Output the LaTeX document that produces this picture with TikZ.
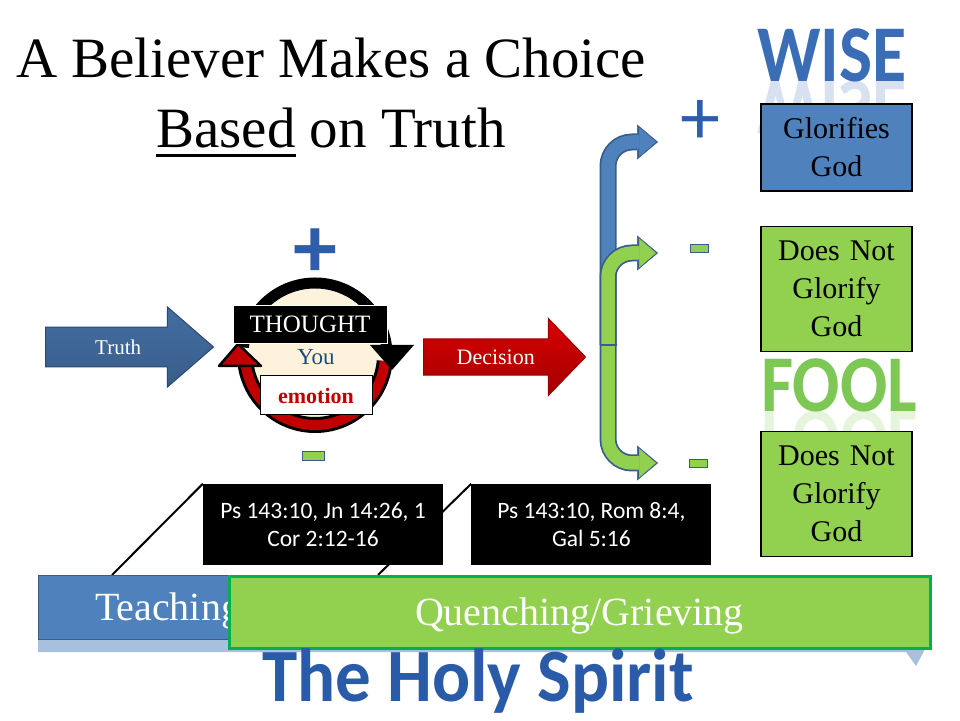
\documentclass[tikz,border=0pt]{standalone}
\usepackage{fontspec}
\setmainfont{Liberation Serif}
\newfontfamily\calibri{Carlito}
\usetikzlibrary{shapes.geometric, shapes.arrows, arrows.meta, positioning, calc, backgrounds}

\definecolor{ppblue}{HTML}{4F81BD}
\definecolor{ppblueline}{HTML}{385D8A}
\definecolor{ppgreen}{HTML}{92D050}
\definecolor{ppdark}{HTML}{1F497D}
\definecolor{ppred}{HTML}{C00000}
\definecolor{cream}{HTML}{FDF3DC}
\definecolor{wiseblue}{HTML}{3B6DB6}
\definecolor{signblue}{HTML}{2E5EAA}
\definecolor{spiritblue}{HTML}{2A5BA8}
\definecolor{foolgreen}{HTML}{7DC855}
\definecolor{barline}{HTML}{00B050}

\newcommand{\ulword}[1]{\setbox0\hbox{#1}\rlap{\rule[-9pt]{\wd0}{2.5pt}}\box0\relax}

\begin{document}
\begin{tikzpicture}[x=1pt, y=1pt,
      titletext/.style={font=\fontsize{57}{70}\selectfont, inner sep=0pt, anchor=base},
      bigword/.style  ={font=\calibri\bfseries\fontsize{70}{70}\selectfont, inner sep=0pt, anchor=base, yscale=1.15, transform shape},
      mirror/.style   ={yscale=-1, opacity=0.2},
      result/.style   ={rectangle, draw=black, line width=1.2pt, minimum width=151pt, text width=140pt, align=center, font=\fontsize{30}{38}\selectfont},
      plussign/.style ={text=signblue, font=\calibri\fontsize{80}{80}\selectfont, inner sep=0pt},
      minussign/.style={rectangle, fill=ppgreen, draw=ppblueline, line width=0.8pt, minimum width=18pt, minimum height=8pt, inner sep=0pt},
      flow/.style     ={single arrow, line width=1pt, text=white, font=\fontsize{21}{21}\selectfont, anchor=west},
      tagbox/.style   ={rectangle, minimum width=154pt, minimum height=38pt, inner sep=0pt},
      bendout/.style  ={draw=ppblueline, line width=17pt, rounded corners=24pt, -{Triangle[length=21pt, width=35pt, line width=0.5pt]}},
      bendin/.style   ={line width=13.5pt, rounded corners=24pt, -{Triangle[length=17pt, width=29pt, line width=0.5pt]}, shorten >=2pt},
      verse/.style    ={rectangle, fill=black, text=white, minimum width=240pt, minimum height=81pt, align=center, font=\calibri\fontsize{23.5}{28}\selectfont},
      bar/.style      ={rectangle, text=white, font=\fontsize{40}{40}\selectfont, text depth=1pt},
    ]
    \useasboundingbox (0,0) rectangle (960,720);

    % Title
    \node[titletext] (title1) at (331,642) {A Believer Makes a Choice};
    \node[titletext] (title2) at (331,572) {\ulword{Based} on Truth};

    % Wise / Fool words with reflections
    \node[bigword, text=wiseblue] (wise) at (832,638) {WISE};
    \node[bigword, mirror, text=wiseblue] (wiseecho) at (832,638) {WISE};
    \node[bigword, text=foolgreen] (fool) at (839,308) {FOOL};
    \node[bigword, mirror, text=foolgreen] (foolecho) at (839,308) {FOOL};

    % Results
    \node[result, fill=ppblue, minimum height=87pt] (glory) at (836.5,572.5) {Glorifies\\God};
    \node[result, fill=ppgreen, minimum height=125pt, below=34pt of glory] (noglory1) {Does Not\\Glorify\\God};
    \node[result, fill=ppgreen, minimum height=125pt, below=79pt of noglory1] (noglory2) {Does Not\\Glorify\\God};

    % Signs
    \node[plussign] (plustop) at (700,597) {+};
    \node[minussign] (minusmid) at (699,472) {};
    \node[minussign] (minuslow) at (698,257) {};
    \node[plussign, font=\calibri\bfseries\fontsize{88}{88}\selectfont] (plusyou) at (315,467) {+};
    \node[minussign, minimum width=22pt, minimum height=9pt] (minusyou) at (313,264) {};

    % The person: thought / emotion cycle
    \coordinate (core) at (315,365);
    \fill[cream] (core) circle[radius=66];
    \draw[line width=16pt] ($(core)+(-5:70)$) arc[start angle=-5, end angle=-172, radius=70];
    \draw[ppred, line width=10pt] ($(core)+(-5:70)$) arc[start angle=-5, end angle=-172, radius=70];
    \draw[line width=11pt] ($(core)+(6:72)$) arc[start angle=6, end angle=174, radius=72];
    \fill ($(core)+(55,10)$) -- ($(core)+(99,10)$) -- ($(core)+(77,-15)$) -- cycle;
    \filldraw[fill=ppred, draw=black, line width=2.5pt, line join=round] ($(core)+(-96,-11)$) -- ($(core)+(-54,-11)$) -- ($(core)+(-77,11)$) -- cycle;
    \node[tagbox, fill=black, draw=white, line width=0.8pt, text=white, font=\fontsize{25}{25}\selectfont] (thought) at (310,396) {THOUGHT};
    \node[text=ppdark, font=\fontsize{23}{23}\selectfont, inner sep=0pt] (you) at (316,363) {You};
    \node[tagbox, fill=white, draw=black, line width=1pt, minimum width=112pt, minimum height=39pt, text=ppred, font=\bfseries\fontsize{22}{22}\selectfont] (emotion) at (316,324.5) {emotion};

    % Truth in, decision out
    \node[flow, draw=ppblueline!80!black, top color=ppblue!85!black, middle color=ppblue!55!white, bottom color=ppblueline,
          minimum height=168pt, minimum width=80pt, single arrow tip angle=82, single arrow head extend=11.5pt] (truth) at (45,373) {Truth};
    \node[flow, draw=ppred!80!black, top color=red!85!black, middle color=red!80!ppred, bottom color=ppred!85!black,
          font=\fontsize{22}{22}\selectfont, minimum height=162pt, minimum width=77pt, single arrow tip angle=92, single arrow head extend=12.6pt] (decision) at (423,363) {Decision};

    % Branching arrows
    \coordinate (fork)   at (608,375);
    \coordinate (upend)  at (658,578);
    \coordinate (midend) at (658,467);
    \coordinate (lowend) at (658,257);
    \draw[bendout] (fork) |- (upend);
    \draw[bendin, draw=ppblue] (fork) |- (upend);
    \draw[bendout] (fork) |- (midend);
    \draw[bendin, draw=ppgreen] (fork) |- (midend);
    \draw[bendout] (fork) |- (lowend);
    \draw[bendin, draw=ppgreen] (fork) |- (lowend);
    \draw[ppblueline, line width=1.5pt] ($(fork)+(-8.5,0)$) -- ($(fork)+(8.5,0)$);

    % The Holy Spirit bar
    \fill[ppblue!50!white] (38,80) -- (930,80) -- (916,54) -- (906,68) -- (38,68) -- cycle;
    \node[bar, fill=ppblue, draw=ppblueline, line width=1pt, minimum width=892pt, minimum height=64pt,
          text width=778pt, inner xsep=57pt, align=left] (teaching) at (484,113) {Teaching};
    \node[bar, fill=ppgreen, draw=barline, line width=3pt, minimum width=701pt, minimum height=72pt] (quench) at (579.5,108) {Quenching/Grieving};
    \node[font=\calibri\bfseries\fontsize{71}{71}\selectfont, text=spiritblue, inner sep=0pt, anchor=base, yscale=1.06, transform shape] (spirit) at (478,19) {The Holy Spirit};

    % Scripture callouts
    \coordinate (teachpin)  at (112,145);
    \coordinate (quenchpin) at (378,145);
    \node[verse] (verse1) at (323,195.5) {Ps 143:10, Jn 14:26, 1\\Cor 2:12-16};
    \node[verse, right=28pt of verse1] (verse2) {Ps 143:10, Rom 8:4,\\Gal 5:16};
    \begin{pgfonlayer}{background}
      \fill[white] (0,0) rectangle (960,720);
      \draw[line width=2pt] (verse1.north west) -- (teachpin);
      \draw[line width=2pt] (verse2.north west) -- (quenchpin);
    \end{pgfonlayer}

  \end{tikzpicture}
\end{document}
